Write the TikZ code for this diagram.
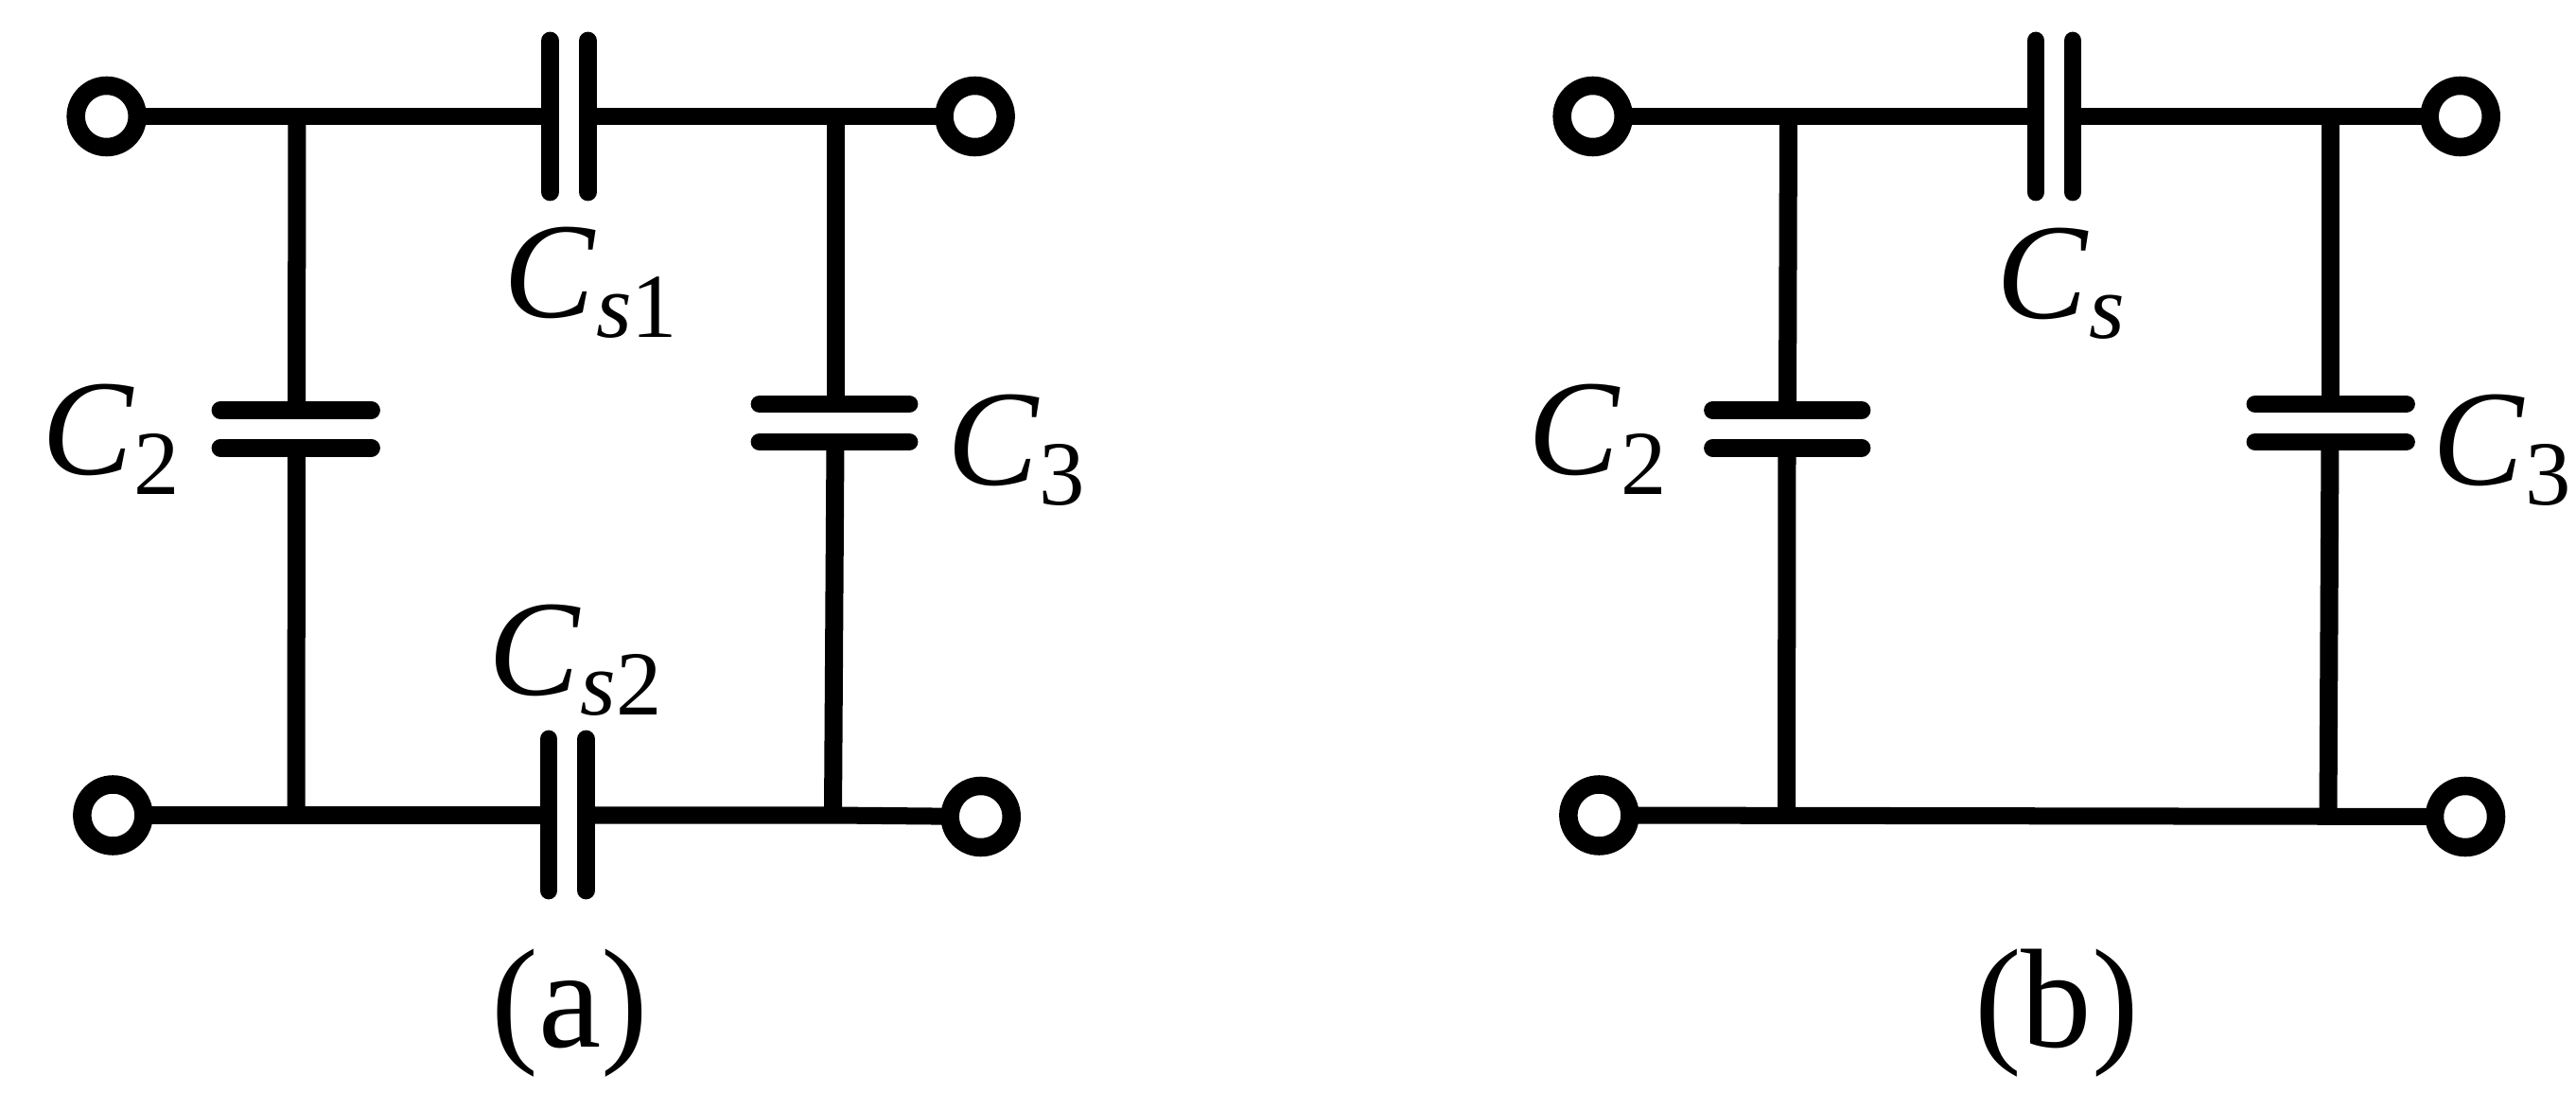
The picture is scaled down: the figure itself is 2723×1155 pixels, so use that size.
\documentclass[tikz,border=0pt]{standalone}
\usepackage{fontspec}
\setmainfont{Liberation Serif}
\newcommand{\bigsize}{\fontsize{41}{44}\selectfont}
\newcommand{\subsize}{\fontsize{27.5}{30}\selectfont}
\newcommand{\capname}[1]{\textit{C}\raisebox{-5.9pt}{\subsize #1}}
\tikzset{
  wire/.style={line width=0.18cm},
  branch/.style={line width=0.19cm},
  plate/.style={line width=0.188cm,line cap=round},
  terminal/.style={circle,draw,line width=0.195cm,fill=white,minimum size=0.65cm,inner sep=0pt,outer sep=0pt},
  caplabel/.style={anchor=base west,inner sep=0pt,font=\bigsize},
  panellabel/.style={anchor=base,inner sep=0pt,font=\fontsize{42.4}{46}\selectfont}
}
\begin{document}
\begin{tikzpicture}[x=0.01cm,y=-0.01cm]
  \useasboundingbox (0,0) rectangle (2723,1155);
  % (a)
  \node[terminal] (atl) at (112.7,123) {};
  \node[terminal] (atr) at (1030.6,123) {};
  \node[terminal] (abl) at (119.4,861.5) {};
  \node[terminal] (abr) at (1036.7,863) {};
  \coordinate (aj1) at (314,123);
  \coordinate (aj2) at (883.7,123);
  \coordinate (aj3) at (313,861.5);
  \coordinate (aj4) at (880.5,861.5);
  \coordinate (as1l) at (581.5,123);
  \coordinate (as1r) at (621.5,123);
  \coordinate (as2l) at (580,861.5);
  \coordinate (as2r) at (619.5,861.5);
  \draw[wire] (atl) -- (as1l);
  \draw[wire] (as1r) -- (atr);
  \draw[wire] (abl) -- (as2l);
  \draw[wire] (as2r) -- (aj4) -- (abr);
  \draw[plate] (581.5,43) -- (as1l) -- (581.5,203);
  \draw[plate] (621.5,43) -- (as1r) -- (621.5,203);
  \draw[plate] (580,781) -- (as2l) -- (580,941);
  \draw[plate] (619.5,781) -- (as2r) -- (619.5,941);
  \coordinate (a2t) at (313.5,433.5);
  \coordinate (a2b) at (313.5,473.3);
  \coordinate (a3t) at (883.7,427);
  \coordinate (a3b) at (883,467);
  \draw[branch] (aj1) -- (a2t);
  \draw[branch] (a2b) -- (aj3);
  \draw[branch] (aj2) -- (a3t);
  \draw[branch] (a3b) -- (aj4);
  \draw[plate] (233,433.5) -- (a2t) -- (392.5,433.5);
  \draw[plate] (233,473.3) -- (a2b) -- (392.5,473.3);
  \draw[plate] (803,427) -- (a3t) -- (961,427);
  \draw[plate] (803,467) -- (a3b) -- (961,467);
  \node[caplabel] (acs1) at (532,336) {\capname{\textit{s}1}};
  \node[caplabel] (acs2) at (515.5,734.5) {\capname{\textit{s}2}};
  \node[caplabel] (ac2) at (43.5,502) {\capname{2}};
  \node[caplabel] (ac3) at (1000.5,513) {\capname{3}};
  \node[panellabel] (alab) at (602.5,1106) {(a)};
  % (b)
  \node[terminal] (btl) at (1683.7,123) {};
  \node[terminal] (btr) at (2600.7,123) {};
  \node[terminal] (bbl) at (1690.4,861.5) {};
  \node[terminal] (bbr) at (2606,863) {};
  \coordinate (bj1) at (1890.5,123);
  \coordinate (bj2) at (2463.7,123);
  \coordinate (bj3) at (1888.5,861);
  \coordinate (bj4) at (2461,862.5);
  \coordinate (bsl) at (2151.9,123);
  \coordinate (bsr) at (2191,123);
  \draw[wire] (btl) -- (bsl);
  \draw[wire] (bsr) -- (btr);
  \draw[wire] (bbl) -- (bbr);
  \draw[plate] (2151.9,43) -- (bsl) -- (2151.9,203);
  \draw[plate] (2191,43) -- (bsr) -- (2191,203);
  \coordinate (b2t) at (1889.5,433.5);
  \coordinate (b2b) at (1889,473.3);
  \coordinate (b3t) at (2463.7,427);
  \coordinate (b3b) at (2463,467);
  \draw[branch] (bj1) -- (b2t);
  \draw[branch] (b2b) -- (bj3);
  \draw[branch] (bj2) -- (b3t);
  \draw[branch] (b3b) -- (bj4);
  \draw[plate] (1810.5,433.5) -- (b2t) -- (1968,433.5);
  \draw[plate] (1810.5,473.3) -- (b2b) -- (1968,473.3);
  \draw[plate] (2384,427) -- (b3t) -- (2543.5,427);
  \draw[plate] (2384,467) -- (b3b) -- (2543.5,467);
  \node[caplabel] (bcs) at (2110,337) {\capname{\textit{s}}};
  \node[caplabel] (bc2) at (1615,502) {\capname{2}};
  \node[caplabel] (bc3) at (2571,513) {\capname{3}};
  \node[panellabel] (blab) at (2174,1106) {(b)};
\end{tikzpicture}
\end{document}
